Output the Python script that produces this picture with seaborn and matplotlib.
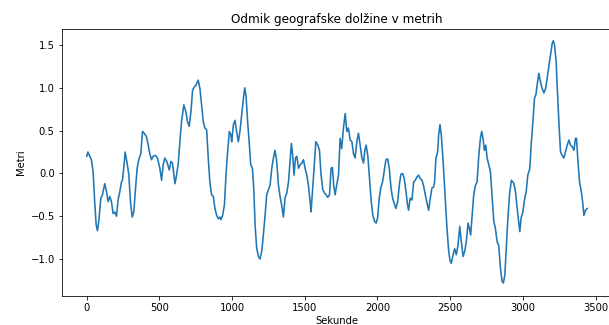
import matplotlib
matplotlib.use("Agg")
import matplotlib.pyplot as plt
import seaborn as sns
import pandas as pd

# Time (s) and longitude offset (m) along the track
seconds = [
    0, 8, 21, 32, 44, 55, 65, 74, 83, 97, 108, 124, 136, 147, 159, 170, 182, 193,
    205, 216, 228, 239, 246, 257, 264, 278, 290, 301, 313, 324, 336, 347, 358, 372,
    384, 395, 411, 423, 434, 446, 457, 473, 487, 503, 515, 526, 537, 551, 568, 579,
    590, 607, 618, 630, 641, 652, 668, 682, 694, 705, 717, 728, 740, 751, 767, 779,
    790, 802, 813, 825, 836, 847, 859, 871, 882, 894, 905, 917, 923, 935, 947, 958,
    969, 981, 992, 997, 1009, 1020, 1031, 1043, 1054, 1066, 1078, 1087, 1096, 1107,
    1119, 1128, 1140, 1150, 1158, 1169, 1181, 1192, 1204, 1215, 1227, 1238, 1250,
    1261, 1273, 1284, 1295, 1307, 1319, 1330, 1341, 1353, 1364, 1376, 1388, 1399,
    1408, 1417, 1426, 1436, 1445, 1457, 1468, 1479, 1491, 1502, 1514, 1525, 1537,
    1543, 1553, 1564, 1576, 1590, 1601, 1612, 1624, 1636, 1647, 1658, 1670, 1681,
    1690, 1699, 1709, 1721, 1732, 1743, 1754, 1766, 1778, 1789, 1800, 1812, 1824,
    1835, 1846, 1858, 1869, 1881, 1893, 1904, 1913, 1922, 1934, 1945, 1957, 1968,
    1980, 1991, 2001, 2012, 2024, 2035, 2046, 2058, 2070, 2081, 2093, 2104, 2115,
    2127, 2139, 2150, 2161, 2173, 2184, 2196, 2207, 2214, 2225, 2237, 2249, 2260,
    2272, 2283, 2294, 2306, 2318, 2329, 2340, 2352, 2363, 2375, 2386, 2393, 2402,
    2414, 2421, 2430, 2439, 2449, 2458, 2467, 2478, 2490, 2499, 2508, 2520, 2531,
    2542, 2554, 2566, 2577, 2589, 2600, 2611, 2623, 2632, 2641, 2651, 2662, 2674,
    2685, 2697, 2708, 2717, 2726, 2735, 2745, 2754, 2766, 2777, 2788, 2800, 2811,
    2823, 2834, 2846, 2857, 2866, 2876, 2885, 2896, 2908, 2921, 2930, 2937, 2949,
    2961, 2972, 2979, 2988, 3000, 3011, 3023, 3034, 3048, 3057, 3069, 3080, 3090,
    3098, 3110, 3121, 3133, 3145, 3156, 3167, 3179, 3190, 3202, 3209, 3218, 3229,
    3241, 3250, 3259, 3271, 3282, 3293, 3305, 3317, 3328, 3340, 3351, 3362, 3369,
    3379, 3390, 3402, 3411, 3420, 3431, 3443,
]
offset_m = [
    0.20, 0.25, 0.20, 0.16, 0.02, -0.33, -0.60, -0.67, -0.56, -0.29, -0.25, -0.12,
    -0.21, -0.33, -0.27, -0.33, -0.47, -0.45, -0.50, -0.31, -0.21, -0.10, -0.08,
    0.10, 0.25, 0.12, -0.02, -0.33, -0.51, -0.45, -0.17, 0.06, 0.16, 0.23, 0.49,
    0.47, 0.43, 0.33, 0.23, 0.16, 0.20, 0.21, 0.18, 0.06, -0.08, 0.10, 0.18, 0.14,
    0.04, 0.14, 0.12, -0.12, -0.02, 0.12, 0.37, 0.60, 0.80, 0.72, 0.60, 0.55, 0.72,
    0.97, 1.01, 1.03, 1.09, 0.99, 0.80, 0.60, 0.53, 0.51, 0.18, -0.10, -0.25, -0.27,
    -0.41, -0.49, -0.53, -0.51, -0.54, -0.49, -0.37, -0.02, 0.25, 0.49, 0.45, 0.37,
    0.57, 0.62, 0.49, 0.37, 0.49, 0.68, 0.88, 1.00, 0.90, 0.60, 0.33, 0.10, 0.06,
    -0.21, -0.60, -0.87, -0.97, -1.00, -0.91, -0.72, -0.49, -0.25, -0.19, -0.14,
    0.06, 0.18, 0.27, 0.14, -0.14, -0.27, -0.37, -0.51, -0.29, -0.23, -0.10, 0.14,
    0.35, 0.21, -0.02, 0.18, 0.20, 0.06, 0.10, 0.12, 0.16, 0.06, -0.02, -0.14,
    -0.33, -0.45, -0.21, 0.06, 0.37, 0.33, 0.27, -0.02, -0.19, -0.23, -0.25, -0.28,
    -0.25, 0.06, 0.07, -0.14, -0.25, -0.12, -0.02, 0.41, 0.29, 0.53, 0.70, 0.49,
    0.53, 0.39, 0.37, 0.23, 0.18, 0.37, 0.47, 0.33, 0.18, 0.12, 0.27, 0.33, 0.20,
    -0.06, -0.33, -0.49, -0.56, -0.58, -0.52, -0.29, -0.16, -0.10, 0.02, 0.16, 0.17,
    0.06, -0.17, -0.29, -0.35, -0.41, -0.33, -0.14, -0.01, 0.00, -0.06, -0.21,
    -0.37, -0.43, -0.29, -0.31, -0.10, -0.08, -0.04, -0.02, -0.06, -0.08, -0.15,
    -0.25, -0.34, -0.43, -0.29, -0.17, -0.16, -0.10, 0.18, 0.25, 0.45, 0.57, 0.45,
    0.21, -0.06, -0.33, -0.64, -0.91, -1.02, -1.05, -0.95, -0.88, -0.95, -0.84,
    -0.62, -0.80, -0.97, -0.91, -0.80, -0.58, -0.64, -0.72, -0.49, -0.25, -0.14,
    -0.10, 0.21, 0.41, 0.49, 0.41, 0.27, 0.33, 0.18, 0.10, 0.02, -0.25, -0.56,
    -0.64, -0.80, -0.84, -1.11, -1.26, -1.28, -1.19, -0.91, -0.56, -0.25, -0.08,
    -0.10, -0.11, -0.21, -0.41, -0.58, -0.68, -0.52, -0.45, -0.31, -0.21, -0.02,
    0.06, 0.33, 0.60, 0.88, 0.92, 1.03, 1.17, 1.07, 0.99, 0.94, 0.99, 1.11, 1.25,
    1.38, 1.52, 1.55, 1.50, 1.30, 0.84, 0.53, 0.25, 0.21, 0.18, 0.25, 0.33, 0.39,
    0.33, 0.31, 0.27, 0.41, 0.41, 0.14, -0.10, -0.21, -0.33, -0.49, -0.43, -0.41,
]

title = "Odmik geografske dolžine v metrih"
x_label = "Sekunde"
y_label = "Metri"

df = pd.DataFrame({"t": seconds, "m": offset_m})

dpi = 72
fig = plt.figure(figsize=(609 / dpi, 325 / dpi), dpi=dpi)
# axes run slightly past the right edge of the canvas
ax = fig.add_axes([61.7 / 609, 1 - 296 / 325, 551 / 609, 267 / 325])

sns.lineplot(data=df, x="t", y="m", ax=ax, color="#1f77b4", linewidth=1.6)

ax.set_title(title, fontsize=12)
ax.set_xlabel(x_label, fontsize=10, labelpad=2.5)
ax.set_ylabel(y_label, fontsize=10)
ax.set_xticks([0, 500, 1000, 1500, 2000, 2500, 3000, 3500])
ax.set_yticks([-1.0, -0.5, 0.0, 0.5, 1.0, 1.5])
ax.set_xlim(-172, 3618)
ax.set_ylim(-1.432, 1.687)

fig.savefig("out.png", dpi=dpi)
